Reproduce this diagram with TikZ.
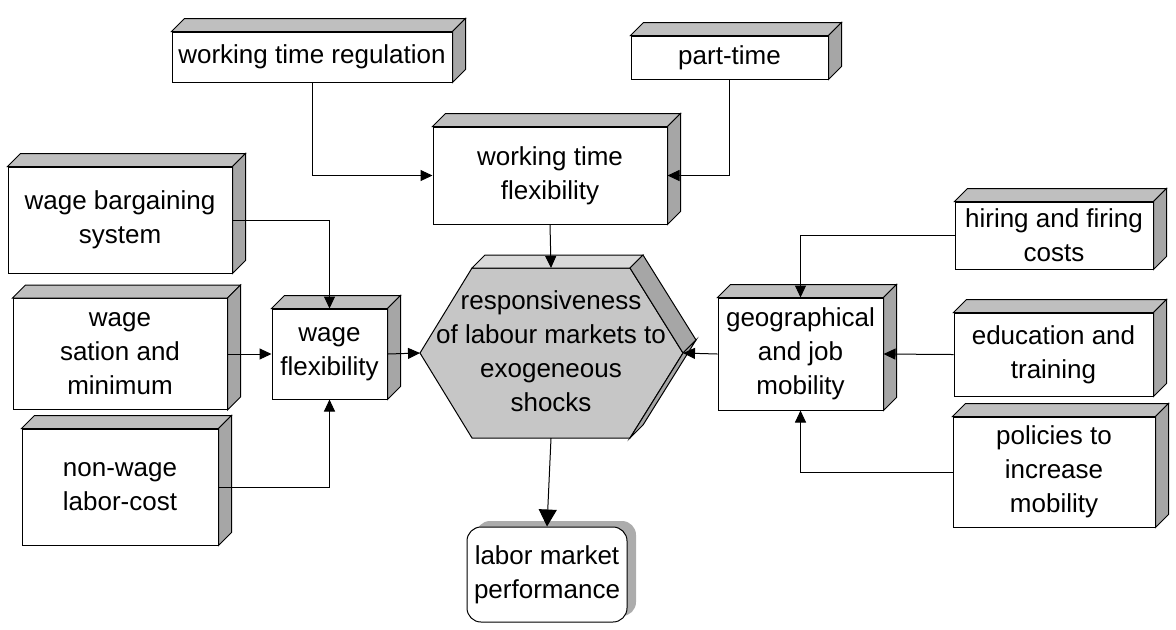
\documentclass[tikz,border=0pt]{standalone}
\usepackage{fontspec}
\setmainfont{Liberation Sans}
\usetikzlibrary{arrows.meta, shadows}

\begin{document}
\begin{tikzpicture}[
        x=0.5pt, y=-0.5pt,
        every node/.style={font=\fontsize{13pt}{17pt}\selectfont},
        block/.style={draw, fill=white, align=center, inner sep=2pt, line width=0.5pt},
        topface/.style={draw, fill=gray!50, line width=0.5pt},
        sideface/.style={draw, fill=gray!70, line width=0.5pt},
        outcome/.style={draw, fill=white, align=center, inner sep=2pt, rounded corners=7pt, line width=0.5pt,
            drop shadow={shadow xshift=4.5pt, shadow yshift=3pt, fill=gray!65, opacity=1}},
        line/.style={line width=0.5pt, -{Triangle[length=6pt, width=5.5pt]}},
        bigline/.style={line width=0.5pt, -{Triangle[length=8.5pt, width=9pt]}}
    ]
        \useasboundingbox (0,0) rectangle (1176,629);

        % Central hexagon
        \coordinate (respW) at (420,353);
        \coordinate (respE) at (683,353);
        \coordinate (respN) at (551,268);
        \coordinate (respS) at (551,438);
        \draw[fill=gray!45, line width=0.5pt] (respW) -- (472,268) -- (630,268) -- (respE) -- (630,438) -- (472,438) -- cycle;
        \draw[draw, fill=gray!30, line width=0.5pt] (472,268) -- (485,255) -- (643,255) -- (630,268) -- cycle;
        \draw[sideface] (630,268) -- (643,255) -- (696,340) -- (respE) -- cycle;
        \draw[sideface] (respE) -- (696,340) -- (643,425) -- (630,438) -- cycle;
        \node[align=center] (resp) at (551,351) {responsiveness\\of labour markets to\\exogeneous\\shocks};

        % Working time
        \node[block, minimum width=140pt, minimum height=25pt] (wtr) at (312,57) {working time regulation};
        \node[block, minimum width=98.5pt, minimum height=21.5pt] (pt) at (729.5,57.5) {part-time};
        \node[block, minimum width=117pt, minimum height=48.5pt] (wtf) at (550,175.5) {working time\\flexibility};

        % Wages
        \node[block, minimum width=112pt, minimum height=53pt] (wbs) at (120,220) {wage bargaining\\system};
        \node[block, minimum width=107pt, minimum height=55.5pt] (wsm) at (120,354) {wage\\sation and\\minimum};
        \node[block, minimum width=98pt, minimum height=58pt] (nw) at (120,487) {non-wage\\labor-cost};
        \node[block, minimum width=57.5pt, minimum height=45pt] (wf) at (329.5,354) {wage\\flexibility};

        % Mobility
        \node[block, minimum width=82.5pt, minimum height=56pt] (geo) at (800.5,354) {geographical\\and job\\mobility};
        \node[block, minimum width=99pt, minimum height=33.5pt] (hir) at (1054,235.5) {hiring and firing\\costs};
        \node[block, minimum width=99.5pt, minimum height=41.5pt] (edu) at (1053.5,354.5) {education and\\training};
        \node[block, minimum width=101pt, minimum height=55pt] (pol) at (1054,472) {policies to\\increase\\mobility};

        % Outcome
        \node[outcome, minimum width=80pt, minimum height=47.5pt] (lmp) at (547,574.5) {labor market\\performance};

        % 3d edges
        \foreach \n in {wtr, pt, wtf, wbs, wsm, nw, wf, geo, hir, edu, pol} {
            \draw[topface] (\n.north west) -- ++(13,-13) -- ([shift={(13,-13)}]\n.north east) -- (\n.north east) -- cycle;
            \draw[sideface] (\n.north east) -- ++(13,-13) -- ([shift={(13,-13)}]\n.south east) -- (\n.south east) -- cycle;
        }

        \draw[line] (wtr.south) |- (wtf.west);
        \draw[line] (pt.south) |- (wtf.east);
        \draw[line] (wtf.south) -- (respN);
        \draw[line] (wbs.east) -| (wf.north);
        \draw[line] (wsm.east) -- (wf.west);
        \draw[line] (nw.east) -| (wf.south);
        \draw[line] (wf.east) -- (respW);
        \draw[line] (hir.west) -| (geo.north);
        \draw[line] (edu.west) -- (geo.east);
        \draw[line] (pol.west) -| (geo.south);
        \draw[line] (geo.west) -- (respE);
        \draw[bigline] (respS) -- (lmp.north);
    \end{tikzpicture}
\end{document}
